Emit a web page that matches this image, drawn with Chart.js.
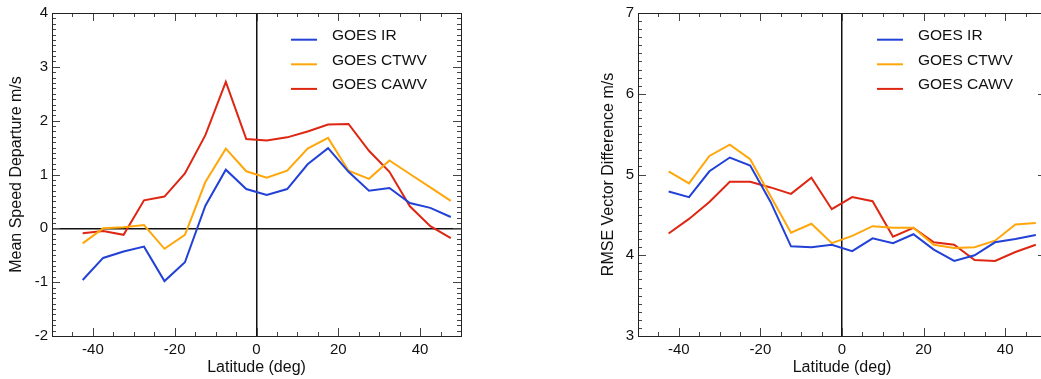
<!DOCTYPE html>
<html>
<head>
<meta charset="utf-8">
<script src="https://cdn.jsdelivr.net/npm/chart.js@4"></script>
<style>
  html, body { margin:0; padding:0; background:#fff; overflow:hidden; width:1041px; height:379px; }
  #wrapL { position:absolute; left:0; top:0; width:520px; height:379px; }
  #wrapR { position:absolute; left:520px; top:0; width:540px; height:379px; }
</style>
</head>
<body>
<div id="wrapL"><canvas id="cL" width="520" height="379"></canvas></div>
<div id="wrapR"><canvas id="cR" width="540" height="379"></canvas></div>
<script>
// ---- data ----
const lat = [-42.5,-37.5,-32.5,-27.5,-22.5,-17.5,-12.5,-7.5,-2.5,2.5,7.5,12.5,17.5,22.5,27.5,32.5,37.5,42.5,47.5];
const seriesNames = ['GOES IR','GOES CTWV','GOES CAWV'];

const speedIR   = [-0.96,-0.55,-0.43,-0.34,-0.98,-0.63,0.42,1.09,0.73,0.62,0.73,1.19,1.49,1.05,0.70,0.75,0.47,0.38,0.21];
const speedCTWV = [-0.28,0.00,0.02,0.06,-0.38,-0.12,0.86,1.48,1.06,0.94,1.07,1.48,1.68,1.07,0.92,1.26,1.01,0.76,0.51];
const speedCAWV = [-0.09,-0.05,-0.12,0.52,0.59,1.02,1.73,2.72,1.66,1.63,1.69,1.80,1.93,1.94,1.44,1.05,0.41,0.04,-0.18];

const rmseIR   = [4.79,4.72,5.04,5.21,5.11,4.66,4.11,4.10,4.13,4.05,4.21,4.15,4.26,4.07,3.93,4.00,4.16,4.20,4.25];
const rmseCTWV = [5.04,4.89,5.23,5.37,5.19,4.73,4.28,4.39,4.15,4.24,4.36,4.34,4.34,4.13,4.09,4.10,4.18,4.38,4.40];
const rmseCAWV = [4.27,4.45,4.66,4.91,4.91,4.84,4.76,4.96,4.57,4.72,4.67,4.23,4.34,4.16,4.13,3.94,3.93,4.04,4.13];

const xTicks = [-40,-20,0,20,40];
const leftYTicks = [-2,-1,0,1,2,3,4];
const rightYTicks = [3,4,5,6,7];

const colors = ['#2241d6','#ffa70a','#de2612'];
const FONT = "'Liberation Sans', Arial, Helvetica, sans-serif";

function pts(vals){ return lat.map((x,i)=>({x:x, y:vals[i]})); }

// inward ticks (major + minor) on all four sides, frame, and legend
const framePlugin = {
  id:'frame',
  afterDraw(chart, args, opts){
    const ctx = chart.ctx, a = chart.chartArea;
    const xs = chart.scales.x, ys = chart.scales.y;
    ctx.save();
    ctx.strokeStyle = '#444';
    ctx.lineWidth = 1;
    for (let v = xs.min; v <= xs.max + 1e-9; v += opts.xMinor) {
      const px = Math.round(xs.getPixelForValue(v)) + 0.5;
      const major = Math.abs(v / opts.xMajor - Math.round(v / opts.xMajor)) < 1e-6;
      const L = major ? 8 : 4;
      ctx.beginPath();
      ctx.moveTo(px, a.bottom); ctx.lineTo(px, a.bottom - L);
      ctx.moveTo(px, a.top); ctx.lineTo(px, a.top + L);
      ctx.stroke();
    }
    const n = Math.round((ys.max - ys.min) / opts.yMinor);
    for (let k = 0; k <= n; k++) {
      const v = ys.min + k * opts.yMinor;
      const py = Math.round(ys.getPixelForValue(v)) + 0.5;
      const major = k % opts.yMajorEvery === 0;
      const L = major ? 8 : 4;
      ctx.beginPath();
      ctx.moveTo(a.left, py); ctx.lineTo(a.left + L, py);
      ctx.moveTo(a.right, py); ctx.lineTo(a.right - L, py);
      ctx.stroke();
    }
    ctx.strokeStyle = '#222';
    ctx.strokeRect(Math.round(a.left)+0.5, Math.round(a.top)+0.5, Math.round(a.right-a.left), Math.round(a.bottom-a.top));
    // legend
    ctx.font = "15.5px " + FONT;
    ctx.textBaseline = 'middle';
    ctx.textAlign = 'left';
    chart.data.datasets.forEach((ds, i) => {
      const y = a.top + 26.7 + i * 24.6;
      ctx.strokeStyle = ds.borderColor;
      ctx.lineWidth = 2;
      ctx.beginPath();
      ctx.moveTo(a.left + 239, y); ctx.lineTo(a.left + 265, y);
      ctx.stroke();
      ctx.fillStyle = '#111';
      ctx.fillText(ds.label, a.left + 280, y - 4);
    });
    ctx.restore();
  }
};

function makeChart(id, series, yMin, yMax, yTicks, yTitle, opt){
  const datasets = series.map((vals, i) => ({
    label: seriesNames[i],
    data: pts(vals),
    borderColor: colors[i],
    backgroundColor: colors[i],
    borderWidth: 2,
    pointRadius: 0,
    tension: 0,
    fill: false
  }));
  return new Chart(document.getElementById(id), {
    type: 'line',
    data: { datasets },
    options: {
      responsive: false,
      animation: false,
      layout: { padding: { top: 11, right: opt.padRight, left: opt.padLeft, bottom: 0 } },
      plugins: {
        legend: { display: false },
        tooltip: { enabled: false },
        frame: { xMinor: 5, xMajor: 20, yMinor: 0.1, yMajorEvery: 10 }
      },
      scales: {
        x: {
          type: 'linear', min: -50, max: 50,
          afterBuildTicks: s => { s.ticks = xTicks.map(v => ({ value: v })); },
          afterFit: s => { s.height = 43; },
          grid: {
            drawTicks: false,
            lineWidth: 1.5,
            color: c => (c.tick && c.tick.value === 0) ? '#111' : 'rgba(0,0,0,0)'
          },
          border: { display: false },
          ticks: { font: { family: FONT, size: 15 }, color: '#111', padding: 5, maxRotation: 0 },
          title: { display: true, text: 'Latitude (deg)', font: { family: FONT, size: 16 }, color: '#111', padding: { top: 0, bottom: 2 } }
        },
        y: {
          type: 'linear', min: yMin, max: yMax,
          afterBuildTicks: s => { s.ticks = yTicks.map(v => ({ value: v })); },
          afterFit: s => { s.width = opt.yWidth; },
          grid: {
            drawTicks: false,
            lineWidth: 1.5,
            color: c => (opt.zeroH && c.tick && c.tick.value === 0) ? '#111' : 'rgba(0,0,0,0)'
          },
          border: { display: false },
          ticks: { font: { family: FONT, size: 15 }, color: '#111', padding: 4 },
          title: { display: true, text: yTitle, font: { family: FONT, size: 16 }, color: '#111', padding: { top: opt.titlePad, bottom: 0 } }
        }
      }
    },
    plugins: [framePlugin]
  });
}

makeChart('cL', [speedIR, speedCTWV, speedCAWV], -2, 4, leftYTicks, 'Mean Speed Departure m/s',
  { padLeft: 0, padRight: 59, yWidth: 52, zeroH: true, titlePad: 7 });
makeChart('cR', [rmseIR, rmseCTWV, rmseCAWV], 3, 7, rightYTicks, 'RMSE Vector Difference m/s',
  { padLeft: 70, padRight: 14, yWidth: 48, zeroH: false, titlePad: 8.5 });
</script>
</body>
</html>
